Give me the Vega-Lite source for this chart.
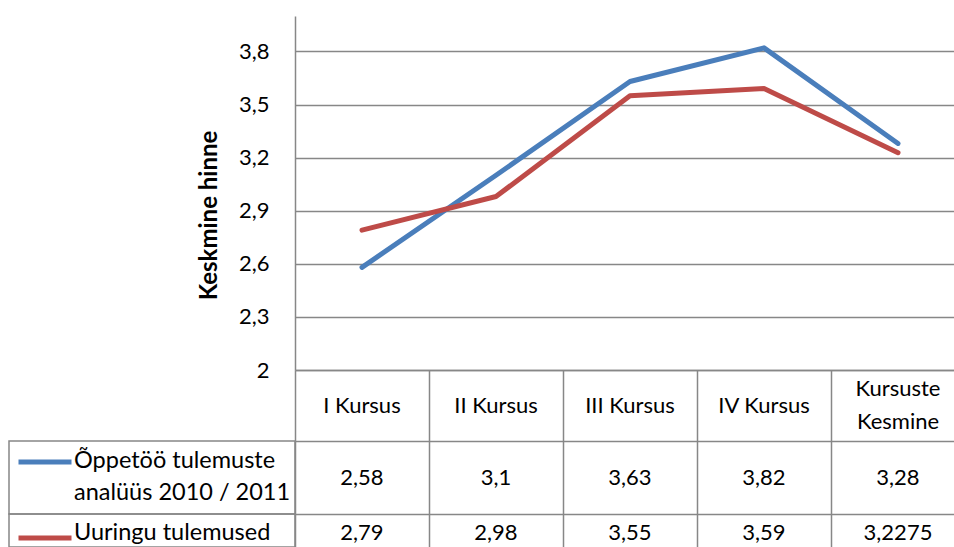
{
  "$schema": "https://vega.github.io/schema/vega-lite/v6.json",
  "padding": {"left": 8, "top": 16, "right": 0, "bottom": 0},
  "background": "white",
  "columns": 2,
  "spacing": 0,
  "bounds": "flush",
  "align": "each",
  "config": {
    "view": {"stroke": null},
    "font": "Lato",
    "text": {"font": "Lato", "fontSize": 22, "color": "#000000", "lineBreak": "\n", "lineHeight": 32},
    "axis": {
      "labelFont": "Lato", "labelFontSize": 22, "labelColor": "#000000",
      "titleFont": "Lato", "titleFontSize": 24, "titleColor": "#000000",
      "domainColor": "#878787", "domainWidth": 1.5,
      "gridColor": "#878787", "gridWidth": 1.5,
      "ticks": false, "tickSize": 0
    },
    "locale": {"number": {"decimal": ",", "thousands": " ", "grouping": [3], "currency": ["", " €"]}}
  },
  "datasets": {
    "scores": [
      {"kursus": "I Kursus", "series": "Õppetöö tulemuste\nanalüüs 2010 / 2011", "hinne": 2.58},
      {"kursus": "II Kursus", "series": "Õppetöö tulemuste\nanalüüs 2010 / 2011", "hinne": 3.1},
      {"kursus": "III Kursus", "series": "Õppetöö tulemuste\nanalüüs 2010 / 2011", "hinne": 3.63},
      {"kursus": "IV Kursus", "series": "Õppetöö tulemuste\nanalüüs 2010 / 2011", "hinne": 3.82},
      {"kursus": "Kursuste\nKesmine", "series": "Õppetöö tulemuste\nanalüüs 2010 / 2011", "hinne": 3.28},
      {"kursus": "I Kursus", "series": "Uuringu tulemused", "hinne": 2.79},
      {"kursus": "II Kursus", "series": "Uuringu tulemused", "hinne": 2.98},
      {"kursus": "III Kursus", "series": "Uuringu tulemused", "hinne": 3.55},
      {"kursus": "IV Kursus", "series": "Uuringu tulemused", "hinne": 3.59},
      {"kursus": "Kursuste\nKesmine", "series": "Uuringu tulemused", "hinne": 3.2275}
    ],
    "kursused": [
      {"kursus": "I Kursus"},
      {"kursus": "II Kursus"},
      {"kursus": "III Kursus"},
      {"kursus": "IV Kursus"},
      {"kursus": "Kursuste\nKesmine"}
    ],
    "seeriad": [
      {"series": "Õppetöö tulemuste\nanalüüs 2010 / 2011"},
      {"series": "Uuringu tulemused"}
    ]
  },
  "concat": [
    {
      "width": 286, "height": 354,
      "data": {"name": "seeriad"},
      "transform": [{"filter": "datum.series == 'Uuringu tulemused'"}],
      "mark": {"type": "text"},
      "encoding": {"text": {"value": ""}}
    },
    {
      "width": 660, "height": 354,
      "data": {"name": "scores"},
      "mark": {"type": "line", "strokeWidth": 5, "strokeCap": "round", "strokeJoin": "round"},
      "encoding": {
        "x": {
          "field": "kursus", "type": "nominal",
          "scale": {"type": "point", "domain": ["I Kursus", "II Kursus", "III Kursus", "IV Kursus", "Kursuste\nKesmine"], "range": [0, 670], "padding": 0.5},
          "axis": {"orient": "bottom", "labels": false, "title": null, "grid": false, "domain": true}
        },
        "y": {
          "field": "hinne", "type": "quantitative",
          "scale": {"domain": [2, 4], "zero": false, "nice": false},
          "axis": {
            "values": [2, 2.3, 2.6, 2.9, 3.2, 3.5, 3.8],
            "format": "~g",
            "grid": true,
            "labelPadding": 26,
            "title": "Keskmine hinne",
            "titleFontWeight": "bold",
            "titlePadding": 17,
            "titleY": 199
          }
        },
        "color": {
          "field": "series", "type": "nominal",
          "scale": {"domain": ["Õppetöö tulemuste\nanalüüs 2010 / 2011", "Uuringu tulemused"], "range": ["#4A7EBB", "#BE4B48"]},
          "legend": {
            "orient": "none",
            "legendX": 7,
            "legendY": 417,
            "title": null,
            "symbolType": "stroke",
            "symbolSize": 2809,
            "symbolStrokeWidth": 5,
            "labelExpr": "''",
            "rowPadding": 37,
            "padding": 0,
            "direction": "vertical"
          }
        }
      }
    },
    {
      "width": 286, "height": 71,
      "data": {"name": "seeriad"},
      "transform": [{"filter": "datum.series == 'Uuringu tulemused'"}],
      "mark": {"type": "text"},
      "encoding": {"text": {"value": ""}}
    },
    {
      "width": 660, "height": 71,
      "data": {"name": "kursused"},
      "encoding": {
        "x": {
          "field": "kursus", "type": "nominal",
          "scale": {"type": "band", "domain": ["I Kursus", "II Kursus", "III Kursus", "IV Kursus", "Kursuste\nKesmine"], "range": [0, 670], "paddingInner": 0, "paddingOuter": 0},
          "axis": {"orient": "top", "labels": false, "title": null, "domain": false, "grid": true, "bandPosition": 0}
        },
        "text": {"field": "kursus", "type": "nominal"}
      },
      "layer": [
        {
          "transform": [{"filter": "indexof(datum.kursus, '\\n') < 0"}],
          "mark": {"type": "text"}
        },
        {
          "transform": [{"filter": "indexof(datum.kursus, '\\n') >= 0"}],
          "mark": {"type": "text", "dy": -16.5, "lineHeight": 33}
        }
      ]
    },
    {
      "width": 286, "height": 73,
      "view": {"stroke": "#878787", "strokeWidth": 1.5},
      "data": {"name": "seeriad"},
      "transform": [{"filter": "datum.series != 'Uuringu tulemused'"}],
      "mark": {"type": "text", "align": "left", "dx": -78, "dy": -17, "fontSize": 23.5},
      "encoding": {"text": {"field": "series", "type": "nominal"}}
    },
    {
      "width": 660, "height": 73,
      "data": {"name": "scores"},
      "transform": [{"filter": "datum.series != 'Uuringu tulemused'"}],
      "mark": {"type": "text"},
      "encoding": {
        "x": {
          "field": "kursus", "type": "nominal",
          "scale": {"type": "band", "domain": ["I Kursus", "II Kursus", "III Kursus", "IV Kursus", "Kursuste\nKesmine"], "range": [0, 670], "paddingInner": 0, "paddingOuter": 0},
          "axis": {"orient": "top", "labels": false, "title": null, "domain": true, "grid": true, "bandPosition": 0}
        },
        "text": {"field": "hinne", "type": "quantitative", "format": "~g"}
      }
    },
    {
      "width": 286, "height": 33,
      "view": {"stroke": "#878787", "strokeWidth": 1.5},
      "data": {"name": "seeriad"},
      "transform": [{"filter": "datum.series == 'Uuringu tulemused'"}],
      "mark": {"type": "text", "align": "left", "dx": -78, "dy": 2, "fontSize": 23.5},
      "encoding": {"text": {"field": "series", "type": "nominal"}}
    },
    {
      "width": 660, "height": 33,
      "data": {"name": "scores"},
      "transform": [{"filter": "datum.series == 'Uuringu tulemused'"}],
      "mark": {"type": "text", "dy": 2},
      "encoding": {
        "x": {
          "field": "kursus", "type": "nominal",
          "scale": {"type": "band", "domain": ["I Kursus", "II Kursus", "III Kursus", "IV Kursus", "Kursuste\nKesmine"], "range": [0, 670], "paddingInner": 0, "paddingOuter": 0},
          "axis": {"orient": "top", "labels": false, "title": null, "domain": true, "grid": true, "bandPosition": 0}
        },
        "text": {"field": "hinne", "type": "quantitative", "format": "~g"}
      }
    }
  ]
}
